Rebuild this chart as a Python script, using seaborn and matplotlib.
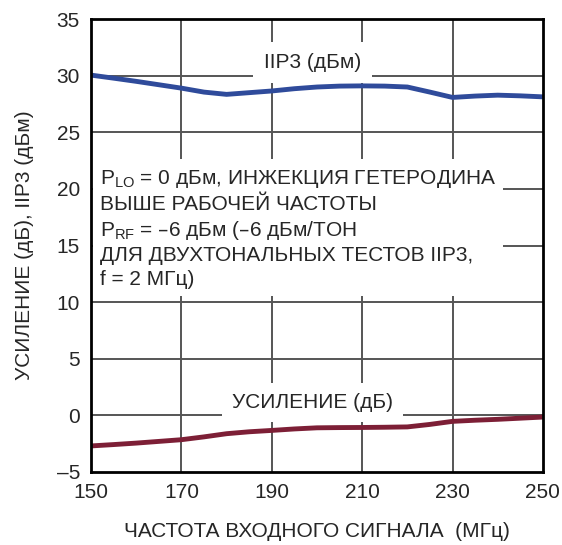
import numpy as np
import pandas as pd
import matplotlib
matplotlib.use('Agg')
import matplotlib.pyplot as plt
import seaborn as sns

freq = [150, 155, 160, 165, 170, 175, 180, 185, 190, 195, 200, 205, 210,
        215, 220, 225, 230, 235, 240, 245, 250]
iip3 = [30.05, 29.78, 29.5, 29.2, 28.9, 28.55, 28.35, 28.5, 28.65, 28.85, 29.0, 29.08, 29.1,
        29.08, 29.0, 28.55, 28.08, 28.2, 28.28, 28.22, 28.13]
gain = [-2.7, -2.58, -2.45, -2.3, -2.15, -1.9, -1.62, -1.45, -1.33, -1.2, -1.1, -1.08, -1.07,
        -1.05, -1.02, -0.8, -0.53, -0.43, -0.35, -0.25, -0.15]

x_ticks = [150, 170, 190, 210, 230, 250]
y_ticks = [-5, 0, 5, 10, 15, 20, 25, 30, 35]
y_labels = ['–5', '0', '5', '10', '15', '20', '25', '30', '35']

df = pd.DataFrame({'freq': freq, 'iip3': iip3, 'gain': gain})

sns.set_style('white')
plt.rcParams['font.family'] = ['Liberation Sans', 'DejaVu Sans']

fig = plt.figure(figsize=(5.62, 5.45), dpi=100)
ax = fig.add_axes([0.162, 0.134, 0.804, 0.831])

grid_c = '#555555'
for xv in x_ticks[1:-1]:
    ax.axvline(xv, color=grid_c, lw=1.4, zorder=1)
for yv in y_ticks[1:-1]:
    ax.axhline(yv, color=grid_c, lw=1.4, zorder=1)

sns.lineplot(data=df, x='freq', y='iip3', ax=ax, color='#2f4b9b', lw=3.5, zorder=4,
             solid_joinstyle='round', solid_capstyle='butt')
sns.lineplot(data=df, x='freq', y='gain', ax=ax, color='#7d1f36', lw=3.5, zorder=4,
             solid_joinstyle='round', solid_capstyle='butt')

ax.set_xlim(150, 250)
ax.set_ylim(-5, 35)
ax.set_xticks(x_ticks)
ax.set_yticks(y_ticks)
ax.set_yticklabels(y_labels)
ax.tick_params(length=0, labelsize=15, pad=8)
for s in ax.spines.values():
    s.set_linewidth(2)
    s.set_color('black')
    s.set_zorder(6)

ax.text(199, 31.2, 'IIP3 (дБм)', ha='center', va='center', fontsize=15,
        bbox=dict(facecolor='white', edgecolor='none', pad=8), zorder=3)
ax.text(199, 1.15, 'УСИЛЕНИЕ (дБ)', ha='center', va='center', fontsize=15,
        bbox=dict(facecolor='white', edgecolor='none', pad=7), zorder=3)
note = ('P$\\mathregular{_{LO}}$ = 0 дБм, ИНЖЕКЦИЯ ГЕТЕРОДИНА\n'
        'ВЫШЕ РАБОЧЕЙ ЧАСТОТЫ\n'
        'P$\\mathregular{_{RF}}$ = –6 дБм (–6 дБм/ТОН\n'
        'ДЛЯ ДВУХТОНАЛЬНЫХ ТЕСТОВ IIP3,\n'
        'f = 2 МГц)')
ax.text(152, 16.5, note, ha='left', va='center', fontsize=15, linespacing=1.3,
        bbox=dict(facecolor='white', edgecolor='none', pad=5), zorder=3)

ax.set_xlabel('ЧАСТОТА ВХОДНОГО СИГНАЛА  (МГц)', fontsize=15, labelpad=14)
ax.set_ylabel('УСИЛЕНИЕ (дБ), IIP3 (дБм)', fontsize=15, labelpad=16)

fig.savefig('out.png', dpi=100)
